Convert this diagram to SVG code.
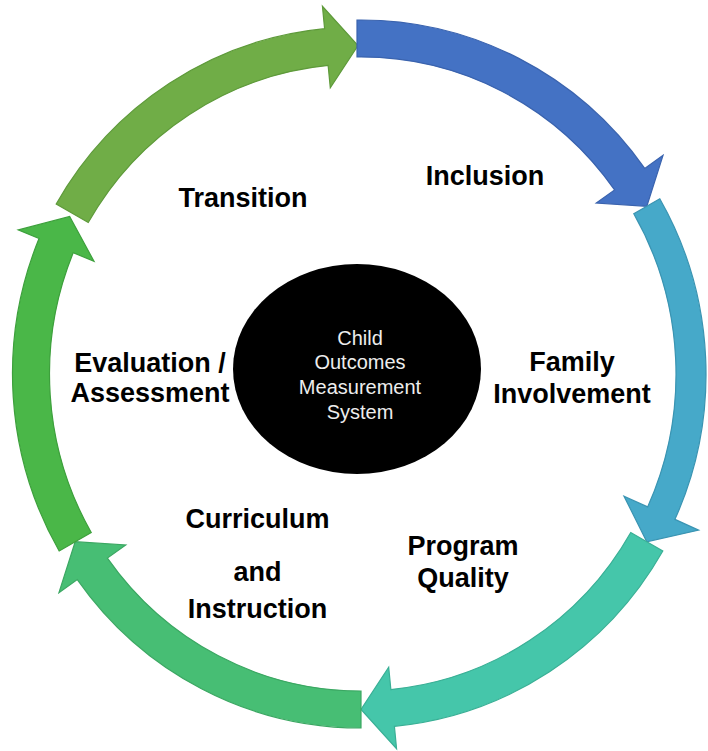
<svg xmlns="http://www.w3.org/2000/svg" width="708" height="751" viewBox="0 0 708 751">
  <style>
    .arrow { stroke-width: 1.2; stroke-linejoin: miter; }
    .lbl { font-family: "Liberation Sans", Arial, sans-serif; font-weight: bold; font-size: 27px; fill: #000000; text-anchor: middle; }
    .ctr { font-family: "Liberation Sans", Arial, sans-serif; font-size: 20px; fill: #EDEDED; text-anchor: middle; }
  </style>
  <rect x="0" y="0" width="708" height="751" fill="#FFFFFF"/>
  <g id="connectors">
    <path id="arrow-transition" class="arrow" transform="translate(-3,7)" fill="#70AD47" stroke="#5E9A3A"
      d="M 59.19 197 A 348.5 354 0 0 1 327.6 21.63 L 325.44 -0.77 L 361 38.5 L 333.3 80.86 L 331.14 58.46 A 311.5 317 0 0 0 91.23 215.5 Z"/>
    <path id="arrow-inclusion" class="arrow" fill="#4472C4" stroke="#3A63AE"
      d="M 357 20 A 348.5 354 0 0 1 644.72 168.43 L 663.04 155.37 L 646.79 206.25 L 596.28 202.98 L 614.6 189.92 A 311.5 317 0 0 0 357 57 Z"/>
    <path id="arrow-family" class="arrow" fill="#46A9C9" stroke="#3A94B2"
      d="M 659.78 198.75 A 345 350.5 0 0 1 674.94 519.35 L 698.59 530.13 L 646.79 541.75 L 623.99 496.13 L 647.64 506.91 A 315 320.5 0 0 0 633.8 213.75 Z"/>
    <path id="arrow-program" class="arrow" fill="#45C6AA" stroke="#39AF95"
      d="M 662.81 551 A 348.5 354 0 0 1 394.4 726.37 L 396.56 748.77 L 361 709.5 L 388.7 667.14 L 390.86 689.54 A 311.5 317 0 0 0 630.77 532.5 Z"/>
    <path id="arrow-curriculum" class="arrow" fill="#47BE74" stroke="#3BA762"
      d="M 361 728 A 348.5 354 0 0 1 77.28 579.57 L 58.96 592.63 L 75.21 541.75 L 125.72 545.02 L 107.4 558.08 A 311.5 317 0 0 0 361 691 Z"/>
    <path id="arrow-evaluation" class="arrow" fill="#4AB748" stroke="#3DA03C"
      d="M 59.19 551 A 348.5 354 0 0 1 39.03 238.53 L 18.24 229.92 L 69.63 216.49 L 94 261.3 L 73.21 252.69 A 311.5 317 0 0 0 91.23 532.5 Z"/>
  </g>
  <g id="node-center">
    <ellipse cx="357" cy="369" rx="124" ry="105" fill="#000000"/>
    <text class="ctr" x="360" y="344.7">Child</text>
    <text class="ctr" x="360" y="368.7">Outcomes</text>
    <text class="ctr" x="360" y="393.7">Measurement</text>
    <text class="ctr" x="360" y="418.7">System</text>
  </g>
  <g id="node-transition"><text class="lbl" x="243" y="207">Transition</text></g>
  <g id="node-inclusion"><text class="lbl" x="485" y="185">Inclusion</text></g>
  <g id="node-family">
    <text class="lbl" x="572" y="371">Family</text>
    <text class="lbl" x="572" y="403">Involvement</text>
  </g>
  <g id="node-program">
    <text class="lbl" x="463" y="555">Program</text>
    <text class="lbl" x="463" y="587">Quality</text>
  </g>
  <g id="node-curriculum">
    <text class="lbl" x="257.5" y="528">Curriculum</text>
    <text class="lbl" x="257.5" y="581">and</text>
    <text class="lbl" x="257.5" y="618">Instruction</text>
  </g>
  <g id="node-evaluation">
    <text class="lbl" x="150" y="372">Evaluation /</text>
    <text class="lbl" x="150" y="402">Assessment</text>
  </g>
</svg>
